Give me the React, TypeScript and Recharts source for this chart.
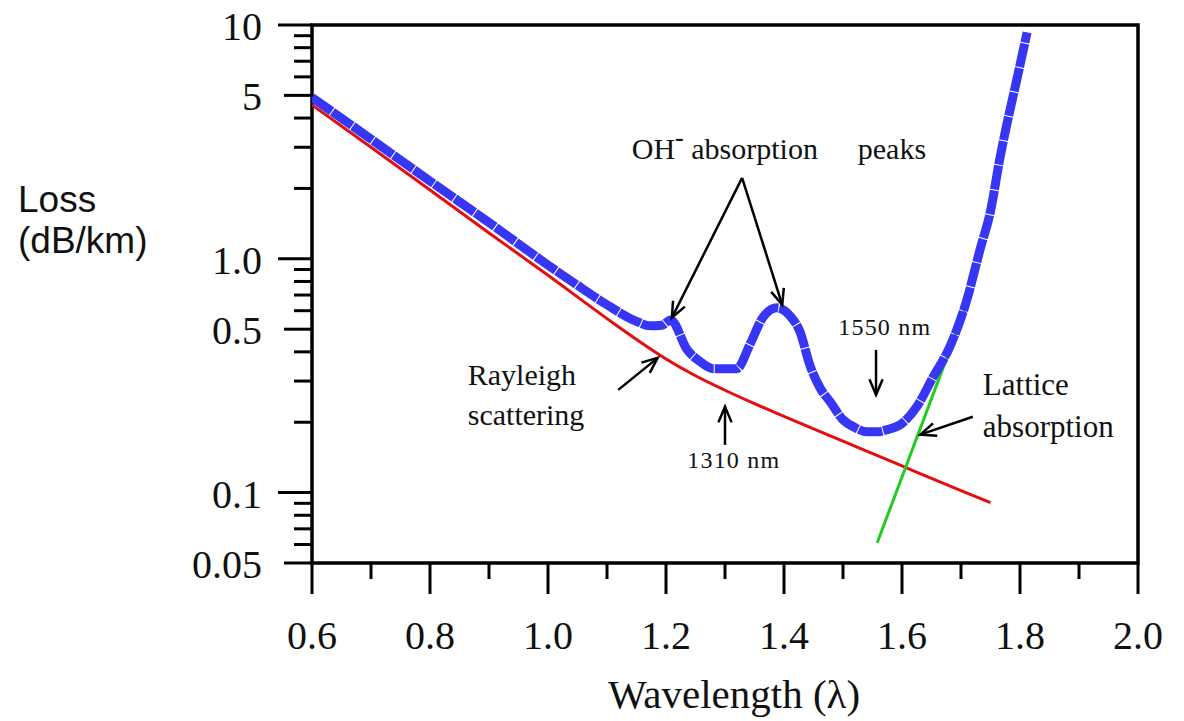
import React from 'react'
import { LineChart, Line, XAxis, YAxis, ReferenceArea, ReferenceLine, ReferenceDot } from 'recharts'

// total fibre loss (thick blue curve)
const totalWavelength = [0.6, 0.7, 0.8, 0.9, 1.0, 1.05, 1.1, 1.15, 1.173, 1.193, 1.208, 1.236, 1.258, 1.28, 1.32, 1.342, 1.364, 1.388, 1.41, 1.427, 1.444, 1.461, 1.478, 1.5, 1.52, 1.541, 1.558, 1.575, 1.597, 1.625, 1.653, 1.681, 1.71, 1.732, 1.75, 1.766, 1.78, 1.795, 1.812]
const totalLoss = [4.9, 3.25, 2.15, 1.43, 0.94, 0.77, 0.636, 0.54, 0.517, 0.52, 0.548, 0.408, 0.363, 0.339, 0.339, 0.429, 0.56, 0.617, 0.571, 0.488, 0.35, 0.281, 0.245, 0.205, 0.19, 0.182, 0.182, 0.186, 0.195, 0.233, 0.313, 0.42, 0.668, 1.09, 1.6, 2.7, 4.0, 5.9, 9.3]

// Rayleigh scattering (red)
const rayleighWavelength = [0.6, 0.7, 0.8, 0.9, 1.0, 1.1, 1.15, 1.2, 1.25, 1.3, 1.35, 1.4, 1.5, 1.6, 1.7, 1.75]
const rayleighLoss = [4.55, 3.0, 1.97, 1.29, 0.85, 0.555, 0.452, 0.373, 0.316, 0.274, 0.24, 0.212, 0.166, 0.13, 0.102, 0.0906]

// lattice absorption (green)
const latticeWavelength = [1.558, 1.715]
const latticeLoss = [0.061, 0.688]

const xTicks = [0.6, 0.7, 0.8, 0.9, 1.0, 1.1, 1.2, 1.3, 1.4, 1.5, 1.6, 1.7, 1.8, 1.9, 2.0]
const yTicks = [0.05, 0.06, 0.07, 0.08, 0.09, 0.1, 0.2, 0.3, 0.4, 0.5, 0.6, 0.7, 0.8, 0.9, 1, 2, 3, 4, 5, 6, 7, 8, 9, 10]
const yLabels: Record<string, string> = { '10': '10', '5': '5', '1': '1.0', '0.5': '0.5', '0.1': '0.1', '0.05': '0.05' }

const arrows = [
  { from: [1.329, 2.22], to: [1.21, 0.56] },
  { from: [1.329, 2.22], to: [1.397, 0.636] },
  { from: [1.119, 0.275], to: [1.186, 0.377] },
  { from: [1.3, 0.16], to: [1.3, 0.233] },
  { from: [1.556, 0.408], to: [1.556, 0.262] },
  { from: [1.72, 0.211], to: [1.631, 0.177] },
]

const notes = [
  { x: 1.525, y: 2.68, text: 'peaks', size: 30, spacing: 0 },
  { x: 0.864, y: 0.29, text: 'Rayleigh', size: 30, spacing: 0 },
  { x: 0.864, y: 0.195, text: 'scattering', size: 30, spacing: 0 },
  { x: 1.236, y: 0.128, text: '1310 nm', size: 24, spacing: 1.2 },
  { x: 1.492, y: 0.473, text: '1550 nm', size: 24, spacing: 1.2 },
  { x: 1.737, y: 0.262, text: 'Lattice', size: 31, spacing: 0 },
  { x: 1.737, y: 0.173, text: 'absorption', size: 31, spacing: 0 },
]

const toRows = (xs: number[], ys: number[]) => xs.map((x, i) => ({ x, loss: ys[i] }))

const serif = '"Liberation Serif", "Times New Roman", serif'

const XTick = (props: any) => {
  const { x, y, payload } = props
  const v = payload.value
  const major = Math.round(v * 10) % 2 === 0
  return (
    <g>
      <line x1={x} y1={y} x2={x} y2={y + (major ? 31 : 16)} stroke="#000" strokeWidth={3} />
      {major && (
        <text x={x} y={y + 86} textAnchor="middle" fontFamily={serif} fontSize={40} fill="#111">
          {v.toFixed(1)}
        </text>
      )}
    </g>
  )
}

const YTick = (props: any) => {
  const { x, y, payload } = props
  const label = yLabels[String(payload.value)]
  const decade = label && Math.abs(Math.log10(payload.value) % 1) < 1e-6
  const len = label ? (decade ? 34 : 28) : 18
  return (
    <g>
      <line x1={x} y1={y} x2={x - len} y2={y} stroke="#000" strokeWidth={3} />
      {label && (
        <text x={x - 50} y={y + 15} textAnchor="end" fontFamily={serif} fontSize={40} fill="#111">
          {label}
        </text>
      )}
    </g>
  )
}

const Arrow = (props: any) => {
  const { x1, y1, x2, y2 } = props
  const a = Math.atan2(y2 - y1, x2 - x1)
  const h = 17
  const w = 0.4
  return (
    <g>
      <line x1={x1} y1={y1} x2={x2} y2={y2} stroke="#000" strokeWidth={2.5} />
      <polyline
        points={`${x2 - h * Math.cos(a - w)},${y2 - h * Math.sin(a - w)} ${x2},${y2} ${x2 - h * Math.cos(a + w)},${y2 - h * Math.sin(a + w)}`}
        fill="none"
        stroke="#000"
        strokeWidth={2.5}
      />
    </g>
  )
}

const App = () => {
  return (
    <div style={{ position: 'absolute', left: 0, top: 0, background: '#fff' }}>
      <LineChart width={1184} height={721} margin={{ top: 25, right: 46, bottom: 0, left: 0 }}>
        <XAxis
          type="number"
          dataKey="x"
          domain={[0.6, 2.0]}
          ticks={xTicks}
          allowDataOverflow
          height={158}
          axisLine={false}
          tickLine={false}
          tickSize={0}
          tickMargin={0}
          tick={<XTick />}
          interval={0}
          label={{
            content: (p: any) => {
              const vb = p.viewBox
              return (
                <text x={vb.x + vb.width / 2 + 9} y={vb.y + 145} textAnchor="middle" fontFamily={serif} fontSize={41} fill="#111">
                  Wavelength (λ)
                </text>
              )
            },
          }}
        />
        <YAxis
          type="number"
          scale="log"
          domain={[0.05, 10]}
          ticks={yTicks}
          allowDataOverflow
          width={312}
          axisLine={false}
          tickLine={false}
          tickSize={0}
          tickMargin={0}
          tick={<YTick />}
          interval={0}
          label={{
            content: () => (
              <text fontFamily='"Liberation Sans", Arial, sans-serif' fontSize={37} fill="#111">
                <tspan x={18} y={212}>Loss</tspan>
                <tspan x={18} y={253}>(dB/km)</tspan>
              </text>
            ),
          }}
        />
        <ReferenceArea x1={0.6} x2={2.0} y1={0.05} y2={10} fill="none" stroke="#000" strokeWidth={3.5} />
        <Line
          data={toRows(rayleighWavelength, rayleighLoss)}
          dataKey="loss"
          type="monotone"
          stroke="#e50d0d"
          strokeWidth={3}
          dot={false}
          isAnimationActive={false}
        />
        <Line
          data={toRows(latticeWavelength, latticeLoss)}
          dataKey="loss"
          type="linear"
          stroke="#1fcc1f"
          strokeWidth={3}
          dot={false}
          isAnimationActive={false}
        />
        <Line
          data={toRows(totalWavelength, totalLoss)}
          dataKey="loss"
          type="monotone"
          stroke="#3636f4"
          strokeWidth={9}
          strokeDasharray="24 1"
          dot={false}
          isAnimationActive={false}
        />
        {arrows.map((ar, i) => (
          <ReferenceLine
            key={`arrow-${i}`}
            segment={[{ x: ar.from[0], y: ar.from[1] }, { x: ar.to[0], y: ar.to[1] }]}
            shape={(p: any) => <Arrow {...p} />}
          />
        ))}
        <ReferenceDot
          x={1.142}
          y={2.68}
          shape={(p: any) => (
            <text x={p.cx} y={p.cy} fontFamily={serif} fontSize={30} fill="#111">
              OH<tspan dy={-13} fontSize={26} fontWeight="bold">-</tspan>
              <tspan dy={13}> absorption</tspan>
            </text>
          )}
        />
        {notes.map((n, i) => (
          <ReferenceDot
            key={`note-${i}`}
            x={n.x}
            y={n.y}
            shape={(p: any) => (
              <text x={p.cx} y={p.cy} fontFamily={serif} fontSize={n.size} letterSpacing={n.spacing} fill="#111">
                {n.text}
              </text>
            )}
          />
        ))}
      </LineChart>
    </div>
  )
}

export default App
